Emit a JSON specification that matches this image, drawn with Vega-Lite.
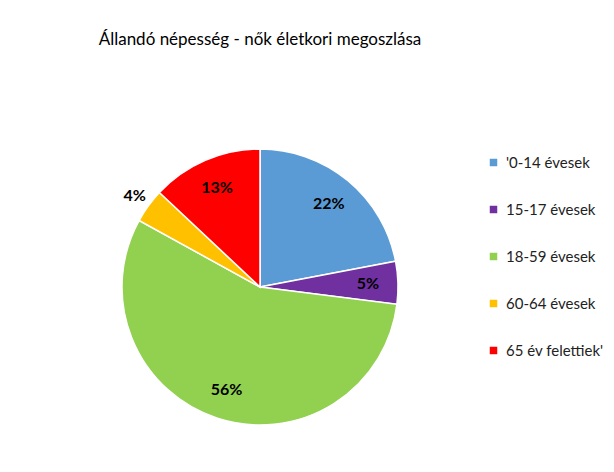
{
  "$schema": "https://vega.github.io/schema/vega-lite/v6.json",
  "autosize": {"type": "none"},
  "width": 320,
  "height": 354,
  "padding": {"left": 100, "top": 110, "right": 194, "bottom": 8},
  "background": "white",
  "title": {
    "text": "Állandó népesség - nők életkori megoszlása",
    "font": "Lato",
    "fontSize": 17,
    "fontWeight": "normal",
    "color": "#000000",
    "anchor": "middle",
    "frame": "group",
    "offset": 61
  },
  "data": {
    "values": [
      {"group": "'0-14 évesek", "share": 0.22, "order": 1},
      {"group": "15-17 évesek", "share": 0.05, "order": 2},
      {"group": "18-59 évesek", "share": 0.56, "order": 3},
      {"group": "60-64 évesek", "share": 0.04, "order": 4},
      {"group": "65 év felettiek'", "share": 0.13, "order": 5}
    ]
  },
  "config": {"view": {"stroke": null}},
  "encoding": {
    "theta": {"field": "share", "type": "quantitative", "stack": true},
    "order": {"field": "order", "type": "quantitative"}
  },
  "layer": [
    {
      "mark": {"type": "arc", "radius": 138, "stroke": "white", "strokeWidth": 1.5},
      "encoding": {
        "color": {
          "field": "group",
          "type": "nominal",
          "sort": null,
          "scale": {
            "domain": ["'0-14 évesek", "15-17 évesek", "18-59 évesek", "60-64 évesek", "65 év felettiek'"],
            "range": ["#5B9BD5", "#7030A0", "#92D050", "#FFC000", "#FF0000"]
          },
          "legend": {
            "title": null,
            "orient": "none",
            "legendX": 386,
            "legendY": 45,
            "symbolType": "square",
            "symbolSize": 56,
            "symbolStrokeWidth": 0,
            "labelFont": "Lato",
            "labelFontSize": 15,
            "labelColor": "#222222",
            "labelOffset": 5,
            "rowPadding": 31,
            "labelLimit": 200
          }
        }
      }
    },
    {
      "mark": {
        "type": "text",
        "radius": 108,
        "font": "Lato",
        "fontSize": 16,
        "fontWeight": "bold",
        "color": "#000000"
      },
      "encoding": {
        "text": {
          "condition": {"test": "datum.share < 0.05", "value": ""},
          "field": "share", "type": "quantitative", "format": ".0%"
        }
      }
    },
    {
      "mark": {
        "type": "text",
        "radius": 155,
        "font": "Lato",
        "fontSize": 16,
        "fontWeight": "bold",
        "color": "#000000"
      },
      "encoding": {
        "text": {
          "condition": {"test": "datum.share >= 0.05", "value": ""},
          "field": "share", "type": "quantitative", "format": ".0%"
        }
      }
    }
  ]
}
